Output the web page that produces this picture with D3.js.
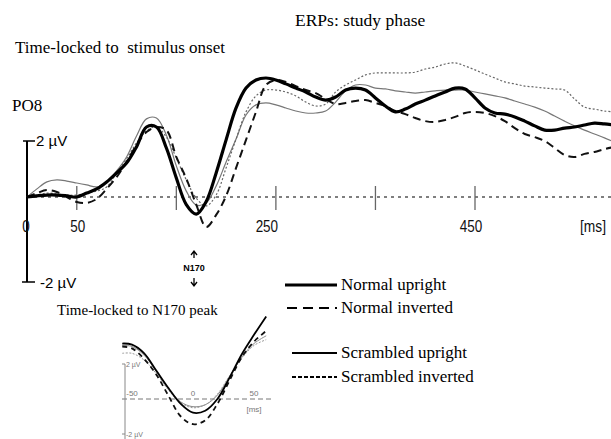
<!DOCTYPE html>
<html>
<head>
<meta charset="utf-8">
<script src="https://cdn.jsdelivr.net/npm/d3@7"></script>
<style>
  body { margin: 0; background: #fff; }
  svg { display: block; }
</style>
</head>
<body>
<div id="chart"></div>
<script>
// sample times (ms after stimulus onset) and amplitudes (µV)
var timeMs = [0, 10, 20, 30, 40, 50, 60, 70, 80, 90,
  100, 110, 120, 130, 140, 150, 160, 170, 180, 190,
  200, 210, 220, 230, 240, 250, 260, 270, 280, 290,
  300, 310, 320, 330, 340, 350, 360, 370, 380, 390,
  400, 410, 420, 430, 440, 450, 460, 470, 480, 490,
  500, 510, 520, 530, 540, 550, 560, 570, 580, 590];

var normalUpright = [0, 0.04, 0.07, 0.07, 0.04, 0, 0.14, 0.29, 0.54, 0.86,
  1.21, 1.79, 2.5, 2.5, 1.75, 0.68, -0.27, -0.61, -0.16, 0.86,
  2.04, 3.18, 3.89, 4.18, 4.25, 4.18, 4.04, 3.89, 3.75, 3.57,
  3.46, 3.57, 3.82, 3.89, 3.82, 3.54, 3.25, 3.04, 3.14, 3.32,
  3.46, 3.61, 3.75, 3.89, 3.86, 3.54, 3.18, 3.0, 2.96, 2.86,
  2.71, 2.54, 2.39, 2.39, 2.46, 2.5, 2.57, 2.64, 2.61, 2.57];

var normalInverted = [0, 0.14, 0.25, 0.18, 0, -0.18, -0.21, -0.07, 0.29, 0.71,
  1.25, 1.86, 2.32, 2.5, 2.39, 1.43, 0.66, -0.27, -1.07, -0.64,
  0.04, 1.04, 2.04, 3.04, 4.0, 4.18, 4.11, 3.96, 3.82, 3.71,
  3.5, 3.32, 3.36, 3.43, 3.46, 3.36, 3.25, 3.07, 2.96, 2.82,
  2.71, 2.68, 2.75, 2.86, 3.0, 3.04, 3.0, 2.89, 2.71, 2.46,
  2.25, 2.14, 2.0, 1.75, 1.5, 1.43, 1.54, 1.61, 1.71, 1.79];

var scrambledUpright = [0, 0.29, 0.54, 0.61, 0.57, 0.5, 0.43, 0.36, 0.54, 0.93,
  1.43, 2.18, 2.79, 2.82, 2.21, 1.11, 0.21, -0.29, -0.21, 0.39,
  1.25, 2.07, 2.93, 3.29, 3.36, 3.29, 3.18, 3.07, 3.0, 3.0,
  3.07, 3.39, 3.79, 4.0, 4.0, 3.89, 3.86, 3.79, 3.75, 3.71,
  3.75, 3.79, 3.82, 3.82, 3.82, 3.75, 3.68, 3.61, 3.54, 3.43,
  3.32, 3.21, 3.07, 2.89, 2.71, 2.54, 2.39, 2.25, 2.11, 1.96];

var scrambledInverted = [0, 0.07, 0.14, 0.11, 0.07, 0.07, 0.14, 0.21, 0.36, 0.86,
  1.36, 1.93, 2.36, 2.5, 2.14, 1.39, 0.61, -0.04, -0.32, 0.07,
  1.04, 2.07, 3.04, 3.61, 3.82, 3.82, 3.75, 3.61, 3.39, 3.25,
  3.32, 3.75, 4.0, 4.18, 4.36, 4.43, 4.43, 4.43, 4.43, 4.46,
  4.57, 4.64, 4.75, 4.79, 4.68, 4.54, 4.39, 4.25, 4.11, 4.04,
  3.96, 3.93, 3.89, 3.86, 3.82, 3.5, 3.21, 3.14, 3.07, 3.04];

// inset: time-locked to the N170 peak
var insetTimeMs = [-58, -50, -40, -30, -20, -10, 0, 10, 20, 30, 40, 50, 60];
var insetNU = [3.17, 3.11, 2.61, 1.61, 0.61, -0.28, -0.78, -0.67, 0, 1.22, 2.56, 3.67, 4.72];
var insetNI = [3.0, 2.89, 2.28, 1.39, 0.17, -1.0, -1.44, -1.22, -0.28, 1.06, 2.39, 3.28, 3.89];
var insetSU = [3.06, 3.0, 2.5, 1.56, 0.56, -0.17, -0.44, -0.33, 0.22, 1.28, 2.39, 3.17, 3.61];
var insetSI = [2.61, 2.61, 2.22, 1.44, 0.5, -0.22, -0.5, -0.33, 0.28, 1.33, 2.33, 3.06, 3.39];

var tickMs = [50, 150, 250, 350, 450];
var tickLabelMs = [0, 50, 250, 450];
var insetTickMs = [-50, 0, 50];
var legendLabels = ['Normal upright', 'Normal inverted', 'Scrambled upright', 'Scrambled inverted'];

var width = 611, height = 439;
var serif = '"Liberation Serif", "Times New Roman", serif';
var sans = '"Liberation Sans", Arial, sans-serif';

var svg = d3.select('#chart').append('svg')
  .attr('width', width)
  .attr('height', height);
svg.append('rect').attr('width', width).attr('height', height).attr('fill', '#fff');

var x = d3.scaleLinear().domain([0, 450]).range([27, 475]);
var y = d3.scaleLinear().domain([0, 2]).range([197, 141]);
var axisBottom = 282;

// titles
svg.append('text').attr('x', 295).attr('y', 26)
  .style('font-family', serif).style('font-size', '17.5px').text('ERPs: study phase');
svg.append('text').attr('x', 15).attr('y', 53)
  .attr('xml:space', 'preserve')
  .style('font-family', serif).style('font-size', '17px').style('white-space', 'pre')
  .text('Time-locked to  stimulus onset');
svg.append('text').attr('x', 12).attr('y', 111)
  .style('font-family', serif).style('font-size', '17px').text('PO8');

// zero line
svg.append('line')
  .attr('x1', x(0)).attr('x2', width)
  .attr('y1', y(0)).attr('y2', y(0))
  .style('stroke', '#555').style('stroke-width', 1.5)
  .style('stroke-dasharray', '3,4');

// calibration bar
svg.append('line').attr('x1', x(0)).attr('x2', x(0))
  .attr('y1', y(2)).attr('y2', axisBottom)
  .style('stroke', '#000').style('stroke-width', 2);
svg.append('line').attr('x1', x(0) - 4).attr('x2', x(0) + 8)
  .attr('y1', y(2)).attr('y2', y(2))
  .style('stroke', '#000').style('stroke-width', 1.5);
svg.append('line').attr('x1', x(0) - 5).attr('x2', x(0) + 8)
  .attr('y1', axisBottom).attr('y2', axisBottom)
  .style('stroke', '#000').style('stroke-width', 1.5);
svg.append('text').attr('x', x(0) + 9).attr('y', y(2) + 5)
  .style('font-family', sans).style('font-size', '15px').text('2 µV');
svg.append('text').attr('x', x(0) + 13).attr('y', axisBottom + 6)
  .style('font-family', sans).style('font-size', '15px').text('-2 µV');

// x ticks
svg.selectAll('.tick').data(tickMs).enter().append('line')
  .attr('class', 'tick')
  .attr('x1', function(d) { return x(d); }).attr('x2', function(d) { return x(d); })
  .attr('y1', 186).attr('y2', 210)
  .style('stroke', '#666').style('stroke-width', 1.3);

var labelShift = { 0: -1, 50: 1, 250: -9, 450: -4 };
svg.selectAll('.tlab').data(tickLabelMs).enter().append('text')
  .attr('class', 'tlab')
  .attr('x', function(d) { return x(d) + labelShift[d]; })
  .attr('y', 232)
  .attr('text-anchor', 'middle')
  .attr('textLength', function(d) { return String(d).length * 7.5; })
  .attr('lengthAdjust', 'spacingAndGlyphs')
  .style('font-family', sans).style('font-size', '17px').style('fill', '#111')
  .text(function(d) { return d; });
svg.append('text').attr('x', 593).attr('y', 232).attr('text-anchor', 'middle')
  .attr('textLength', 26).attr('lengthAdjust', 'spacingAndGlyphs')
  .style('font-family', sans).style('font-size', '17px').style('fill', '#111')
  .text('[ms]');

// N170 marker
var nx = 194;
svg.append('path')
  .attr('d', 'M' + (nx - 3) + ',255 L' + nx + ',251 L' + (nx + 3) + ',255 M' + nx + ',251 L' + nx + ',258')
  .style('fill', 'none').style('stroke', '#000').style('stroke-width', 1.3);
svg.append('text').attr('x', nx).attr('y', 271).attr('text-anchor', 'middle')
  .style('font-family', sans).style('font-size', '9px').style('font-weight', 'bold').text('N170');
svg.append('path')
  .attr('d', 'M' + nx + ',278 L' + nx + ',286 M' + (nx - 3) + ',282 L' + nx + ',286 L' + (nx + 3) + ',282')
  .style('fill', 'none').style('stroke', '#000').style('stroke-width', 1.3);

// series styles
var mainStyles = [
  { data: scrambledUpright, color: '#777', w: 1.2, dash: null },
  { data: scrambledInverted, color: '#666', w: 1.2, dash: '2,2' },
  { data: normalInverted, color: '#111', w: 2, dash: '8,5' },
  { data: normalUpright, color: '#000', w: 3.2, dash: null }
];

var line = d3.line()
  .x(function(d) { return x(d[0]); })
  .y(function(d) { return y(d[1]); })
  .curve(d3.curveCatmullRom);

var g = svg.append('g');
mainStyles.forEach(function(s) {
  g.append('path')
    .datum(d3.zip(timeMs, s.data))
    .attr('d', line)
    .style('fill', 'none')
    .style('stroke', s.color)
    .style('stroke-width', s.w)
    .style('stroke-dasharray', s.dash)
    .style('stroke-linejoin', 'round');
});

// inset
var xi = d3.scaleLinear().domain([0, 50]).range([193, 254]);
var yi = d3.scaleLinear().domain([0, 2]).range([399, 364]);

svg.append('text').attr('x', 57).attr('y', 315)
  .style('font-family', serif).style('font-size', '15px').text('Time-locked to N170 peak');

svg.append('line').attr('x1', 122).attr('x2', 271)
  .attr('y1', yi(0)).attr('y2', yi(0))
  .style('stroke', '#777').style('stroke-width', 1)
  .style('stroke-dasharray', '5,3');
svg.append('line').attr('x1', 125).attr('x2', 125)
  .attr('y1', yi(2)).attr('y2', height)
  .style('stroke', '#888').style('stroke-width', 1);
svg.append('line').attr('x1', 122).attr('x2', 125)
  .attr('y1', yi(2)).attr('y2', yi(2))
  .style('stroke', '#888').style('stroke-width', 1);
svg.append('line').attr('x1', 122).attr('x2', 125)
  .attr('y1', yi(-2)).attr('y2', yi(-2))
  .style('stroke', '#888').style('stroke-width', 1);
svg.append('text').attr('x', 126).attr('y', yi(2) + 3)
  .style('font-family', sans).style('font-size', '7px').style('fill', '#777').text('2 µV');
svg.append('text').attr('x', 126).attr('y', yi(-2) + 3)
  .style('font-family', sans).style('font-size', '7px').style('fill', '#777').text('-2 µV');
svg.selectAll('.itick').data(insetTickMs).enter().append('text')
  .attr('class', 'itick')
  .attr('x', function(d) { return xi(d); })
  .attr('y', yi(0) - 3)
  .attr('text-anchor', 'middle')
  .style('font-family', sans).style('font-size', '8px').style('fill', '#777')
  .text(function(d) { return d; });
svg.append('text').attr('x', xi(50)).attr('y', yi(0) + 13).attr('text-anchor', 'middle')
  .style('font-family', sans).style('font-size', '8px').style('fill', '#777').text('[ms]');

var insetStyles = [
  { data: insetSU, color: '#888', w: 1, dash: null },
  { data: insetSI, color: '#999', w: 1, dash: '2,1.5' },
  { data: insetNI, color: '#111', w: 1.8, dash: '5,4' },
  { data: insetNU, color: '#000', w: 1.8, dash: null }
];
var iline = d3.line()
  .x(function(d) { return xi(d[0]); })
  .y(function(d) { return yi(d[1]); })
  .curve(d3.curveCatmullRom);
insetStyles.forEach(function(s) {
  svg.append('path')
    .datum(d3.zip(insetTimeMs, s.data))
    .attr('d', iline)
    .style('fill', 'none')
    .style('stroke', s.color)
    .style('stroke-width', s.w)
    .style('stroke-dasharray', s.dash);
});

// legend
var legendRows = [
  { y: 285, x1: 285, w: 3, dash: null },
  { y: 308, x1: 287, w: 2.2, dash: '10,6' },
  { y: 353, x1: 292, w: 2, dash: null },
  { y: 377, x1: 292, w: 1.8, dash: '4,2' }
];
var leg = svg.selectAll('.leg').data(legendLabels).enter().append('g').attr('class', 'leg');
leg.append('line')
  .attr('x1', function(d, i) { return legendRows[i].x1; })
  .attr('x2', 337)
  .attr('y1', function(d, i) { return legendRows[i].y; })
  .attr('y2', function(d, i) { return legendRows[i].y; })
  .style('stroke', '#000')
  .style('stroke-width', function(d, i) { return legendRows[i].w; })
  .style('stroke-dasharray', function(d, i) { return legendRows[i].dash; });
leg.append('text')
  .attr('x', 341)
  .attr('y', function(d, i) { return legendRows[i].y + 5; })
  .style('font-family', serif).style('font-size', '17px')
  .text(function(d) { return d; });
</script>
</body>
</html>
